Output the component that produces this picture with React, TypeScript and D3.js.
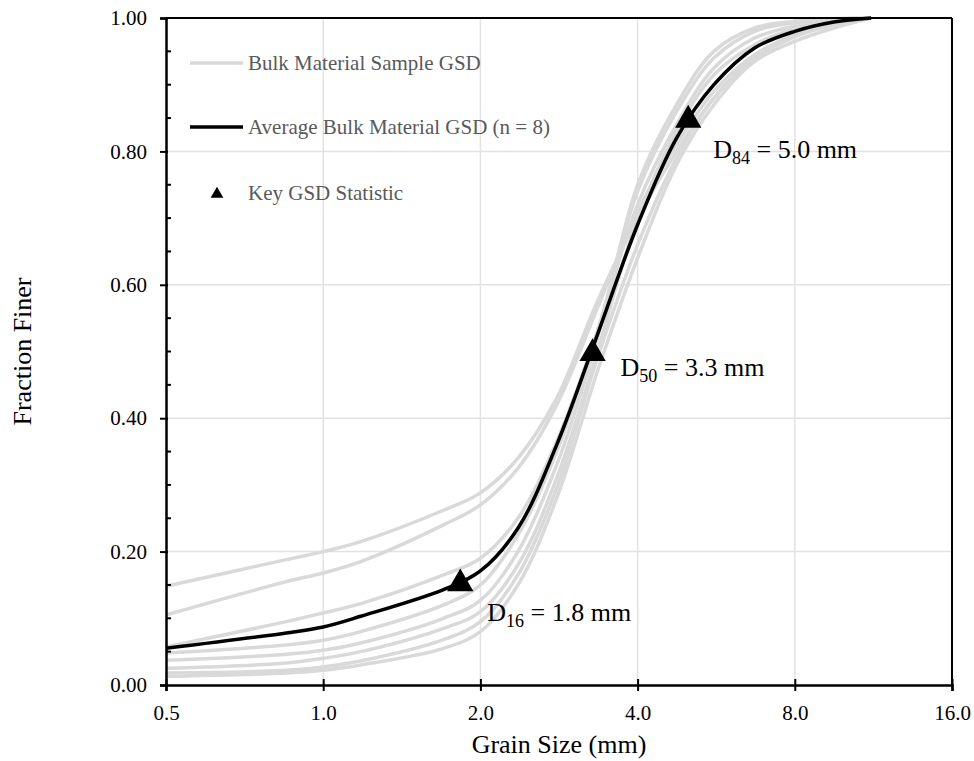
import React, { useEffect, useRef } from "react";
import * as d3 from "d3";

// sieve sizes (mm)
const sizes = [0.5, 0.85, 1.0, 1.18, 1.7, 2.0, 2.36, 2.8, 3.35, 4.0, 4.75, 5.6, 6.7, 8.0, 9.5, 11.2];

// fraction finer for each bulk sample
const sample1 = [0.148, 0.188, 0.2, 0.215, 0.262, 0.288, 0.34, 0.43, 0.575, 0.7, 0.8, 0.88, 0.94, 0.972, 0.99, 1.0];
const sample2 = [0.105, 0.155, 0.168, 0.185, 0.24, 0.27, 0.325, 0.42, 0.565, 0.71, 0.81, 0.89, 0.945, 0.975, 0.992, 1.0];
const sample3 = [0.057, 0.095, 0.108, 0.122, 0.165, 0.19, 0.25, 0.365, 0.53, 0.72, 0.84, 0.925, 0.97, 0.988, 0.997, 1.0];
const sample4 = [0.048, 0.06, 0.067, 0.08, 0.12, 0.15, 0.225, 0.35, 0.53, 0.74, 0.86, 0.94, 0.98, 0.993, 0.998, 1.0];
const sample5 = [0.037, 0.046, 0.052, 0.063, 0.1, 0.127, 0.2, 0.33, 0.52, 0.75, 0.87, 0.95, 0.985, 0.995, 0.999, 1.0];
const sample6 = [0.025, 0.033, 0.04, 0.05, 0.085, 0.11, 0.18, 0.31, 0.5, 0.7, 0.83, 0.915, 0.96, 0.984, 0.995, 1.0];
const sample7 = [0.018, 0.022, 0.027, 0.036, 0.068, 0.095, 0.165, 0.295, 0.49, 0.66, 0.79, 0.88, 0.94, 0.972, 0.99, 1.0];
const sample8 = [0.013, 0.018, 0.022, 0.03, 0.055, 0.08, 0.15, 0.28, 0.47, 0.64, 0.78, 0.87, 0.935, 0.965, 0.985, 1.0];
const samples = [sample1, sample2, sample3, sample4, sample5, sample6, sample7, sample8];

const average = [0.055, 0.078, 0.087, 0.103, 0.143, 0.171, 0.235, 0.36, 0.525, 0.69, 0.82, 0.9, 0.955, 0.98, 0.994, 1.0];

// key statistics
const statSize = [1.83, 3.28, 5.0];
const statFrac = [0.155, 0.5, 0.85];
const statName = ["16", "50", "84"];
const statText = ["1.8", "3.3", "5.0"];
const statOffset = [[27, 39], [28, 24], [25, 40]];

const xTicks = [0.5, 1, 2, 4, 8, 16];
const yTicks = [0, 0.2, 0.4, 0.6, 0.8, 1.0];

const width = 974, height = 761;
const margin = { top: 18, right: 22, bottom: 76, left: 166 };
const font = "'Liberation Serif', 'Times New Roman', serif";

export default function App() {
  const ref = useRef<SVGSVGElement>(null);

  useEffect(() => {
    const svg = d3.select(ref.current);
    svg.selectAll("*").remove();

    const x = d3.scaleLog().base(2).domain([0.5, 16]).range([margin.left, width - margin.right]);
    const y = d3.scaleLinear().domain([0, 1]).range([height - margin.bottom, margin.top]);
    const x0 = x.range()[0], x1 = x.range()[1];
    const y0 = y.range()[0], y1 = y.range()[1];

    // grid
    const grid = svg.append("g").attr("stroke", "#e2e2e2").attr("stroke-width", 1.5);
    grid.selectAll("line.v").data(xTicks.slice(1, -1)).enter().append("line")
      .attr("class", "v")
      .attr("x1", d => x(d)).attr("x2", d => x(d)).attr("y1", y1).attr("y2", y0);
    grid.selectAll("line.h").data(yTicks.slice(1, -1)).enter().append("line")
      .attr("class", "h")
      .attr("x1", x0).attr("x2", x1).attr("y1", d => y(d)).attr("y2", d => y(d));

    const line = d3.line<number>()
      .x((_, i) => x(sizes[i]))
      .y(d => y(Math.min(d, 1)))
      .curve(d3.curveCatmullRom.alpha(0.5));

    svg.append("g").selectAll("path").data(samples).enter().append("path")
      .attr("d", d => line(d))
      .attr("fill", "none")
      .attr("stroke", "#d9d9d9")
      .attr("stroke-width", 3.5);

    svg.append("path")
      .attr("d", line(average))
      .attr("fill", "none")
      .attr("stroke", "#000")
      .attr("stroke-width", 3.5);

    // frame
    svg.append("line").attr("x1", x0).attr("x2", x1).attr("y1", y1).attr("y2", y1).attr("stroke", "#000").attr("stroke-width", 2);
    svg.append("line").attr("x1", x1).attr("x2", x1).attr("y1", y1).attr("y2", y0).attr("stroke", "#000").attr("stroke-width", 2);

    // x axis
    const xAxis = svg.append("g").attr("transform", `translate(0,${y0})`)
      .call(d3.axisBottom(x).tickValues(xTicks).tickSize(6).tickFormat(d3.format(".1f")));
    xAxis.select(".domain").attr("stroke-width", 2.5);
    xAxis.selectAll(".tick line").attr("y1", -6).attr("stroke-width", 2);
    xAxis.selectAll(".tick text").attr("y", 20).attr("dy", "0.71em")
      .style("font-family", font).style("font-size", "21px").attr("fill", "#000");

    // y axis
    const yAxis = svg.append("g").attr("transform", `translate(${x0},0)`)
      .call(d3.axisLeft(y).tickValues(yTicks).tickSize(6).tickFormat(d3.format(".2f")));
    yAxis.select(".domain").attr("stroke-width", 2.5);
    yAxis.selectAll(".tick line").attr("x1", 2).attr("stroke-width", 2);
    yAxis.selectAll(".tick text").attr("x", -19)
      .style("font-family", font).style("font-size", "21px").attr("fill", "#000");
    const minor = d3.range(0.05, 1, 0.05).filter(v => Math.abs(v * 5 - Math.round(v * 5)) > 0.01);
    svg.append("g").selectAll("line").data(minor).enter().append("line")
      .attr("x1", x0).attr("x2", x0 + 5).attr("y1", d => y(d)).attr("y2", d => y(d))
      .attr("stroke", "#000").attr("stroke-width", 2);

    // key statistic markers
    const tri = d3.symbol().type(d3.symbolTriangle).size(300);
    svg.append("g").selectAll("path").data(statSize).enter().append("path")
      .attr("d", tri)
      .attr("transform", (d, i) => `translate(${x(d)},${y(statFrac[i]) + 2})`)
      .attr("fill", "#000");

    const labels = svg.append("g").style("font-family", font).style("font-size", "26px").attr("fill", "#000");
    statSize.forEach((d, i) => {
      const t = labels.append("text")
        .attr("x", x(d) + statOffset[i][0])
        .attr("y", y(statFrac[i]) + statOffset[i][1]);
      t.append("tspan").text("D");
      t.append("tspan").attr("dy", 6).style("font-size", "18px").text(statName[i]);
      t.append("tspan").attr("dy", -6).text(` = ${statText[i]} mm`);
    });

    // legend
    const lg = svg.append("g").style("font-family", font).style("font-size", "21px").attr("fill", "#595959");
    lg.append("line").attr("x1", 190).attr("x2", 243).attr("y1", 63).attr("y2", 63).attr("stroke", "#d9d9d9").attr("stroke-width", 3.5);
    lg.append("text").attr("x", 248).attr("y", 63).attr("dy", "0.35em").text("Bulk Material Sample GSD");
    lg.append("line").attr("x1", 190).attr("x2", 243).attr("y1", 127).attr("y2", 127).attr("stroke", "#000").attr("stroke-width", 3.5);
    lg.append("text").attr("x", 248).attr("y", 127).attr("dy", "0.35em").text("Average Bulk Material GSD (n = 8)");
    lg.append("path").attr("d", d3.symbol().type(d3.symbolTriangle).size(70)()).attr("transform", "translate(217,194)").attr("fill", "#000");
    lg.append("text").attr("x", 248).attr("y", 193).attr("dy", "0.35em").text("Key GSD Statistic");

    // axis titles
    svg.append("text")
      .attr("x", (x0 + x1) / 2).attr("y", 753)
      .attr("text-anchor", "middle")
      .style("font-family", font).style("font-size", "26px")
      .text("Grain Size (mm)");
    svg.append("text")
      .attr("transform", `translate(31,${(y0 + y1) / 2}) rotate(-90)`)
      .attr("text-anchor", "middle")
      .style("font-family", font).style("font-size", "26px")
      .text("Fraction Finer");
  }, []);

  return (
    <div style={{ position: "absolute", left: 0, top: 0 }}>
      <svg ref={ref} width={width} height={height} style={{ display: "block", background: "#fff" }} />
    </div>
  );
}
